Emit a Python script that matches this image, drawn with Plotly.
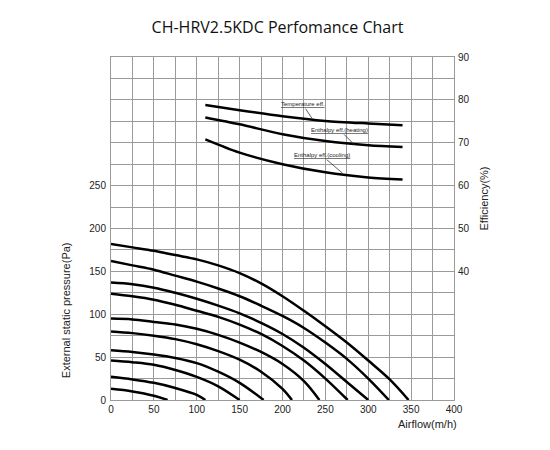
import plotly.graph_objects as go

# fan curves: airflow (m3/h) vs external static pressure (Pa)
fan_x = [
    [0, 25, 50, 75, 100, 125, 150, 175, 200, 225, 250, 275, 300, 325, 347],
    [0, 25, 50, 75, 100, 125, 150, 175, 200, 225, 250, 275, 300, 324],
    [0, 25, 50, 75, 100, 125, 150, 175, 200, 225, 250, 275, 300],
    [0, 25, 50, 75, 100, 125, 150, 175, 200, 225, 250, 276],
    [0, 25, 50, 75, 100, 125, 150, 175, 200, 225, 243],
    [0, 25, 50, 75, 100, 125, 150, 175, 200, 211],
    [0, 25, 50, 75, 100, 125, 150, 178],
    [0, 25, 50, 75, 100, 125, 150],
    [0, 25, 50, 75, 100, 110],
    [0, 25, 50, 66],
]
fan_y = [
    [182, 178, 174, 169, 164, 157, 148, 136, 121, 104, 86, 67, 46, 24, 0],
    [162, 157, 152, 145, 138, 130, 121, 110, 98, 84, 67, 48, 25, 0],
    [137, 135, 131, 125, 118, 110, 101, 90, 77, 61, 42, 21, 0],
    [124, 121, 117, 111, 104, 97, 88, 77, 63, 46, 25, 0],
    [95, 94, 91, 88, 83, 76, 67, 56, 42, 22, 0],
    [80, 78, 75, 71, 65, 57, 47, 33, 13, 0],
    [58, 56, 53, 49, 43, 33, 20, 0],
    [46, 44, 41, 35, 27, 16, 0],
    [27, 24, 20, 14, 6, 0],
    [13, 10, 5, 0],
]

# efficiency curves (%)
eff_x = [110, 150, 200, 250, 300, 340]
temp_eff = [78.8, 77.6, 76.2, 75.1, 74.5, 74.1]
heat_eff = [75.9, 74.3, 72.0, 70.4, 69.4, 69.0]
cool_eff = [70.8, 67.7, 65.0, 63.1, 61.9, 61.4]

pressure_ticks = [0, 50, 100, 150, 200, 250]
eff_ticks = [40, 50, 60, 70, 80, 90]
airflow_ticks = [0, 50, 100, 150, 200, 250, 300, 350, 400]

fig = go.Figure()
for xs, ys in zip(fan_x, fan_y):
    fig.add_trace(go.Scatter(x=xs, y=ys, mode='lines', line=dict(color='black', width=2.5, shape='spline', smoothing=1),
                             showlegend=False, hoverinfo='skip'))
for ys in [temp_eff, heat_eff, cool_eff]:
    fig.add_trace(go.Scatter(x=eff_x, y=ys, yaxis='y2', mode='lines',
                             line=dict(color='black', width=2.5, shape='spline', smoothing=0.8),
                             showlegend=False, hoverinfo='skip'))

tick_font = dict(family='Liberation Sans', size=10, color='#222')
grid_col = '#9a9a9a'
fig.update_layout(
    width=550, height=450,
    margin=dict(l=103, r=104, t=49, b=58),
    plot_bgcolor='white', paper_bgcolor='white',
    title=dict(text='CH-HRV2.5KDC Perfomance Chart', x=0.49, xanchor='center', y=0.956, yanchor='middle',
               font=dict(family='Open Sans', size=16, color='#111')),
    xaxis=dict(range=[0, 400], tickvals=airflow_ticks, showgrid=True, gridcolor=grid_col, gridwidth=1,
               minor=dict(dtick=25, tick0=0, showgrid=True, gridcolor=grid_col, gridwidth=1),
               showline=True, linecolor=grid_col, mirror=True, zeroline=False, ticks='',
               tickfont=tick_font, fixedrange=True),
    yaxis=dict(range=[0, 400], tickvals=pressure_ticks, showgrid=True, gridcolor=grid_col, gridwidth=1,
               minor=dict(dtick=25, tick0=0, showgrid=True, gridcolor=grid_col, gridwidth=1),
               showline=True, linecolor=grid_col, mirror=True, zeroline=False, ticks='',
               ticklabelstandoff=2, tickfont=tick_font),
    yaxis2=dict(range=[10, 90], overlaying='y', side='right', tickvals=eff_ticks, showgrid=False,
                zeroline=False, ticks='', ticklabelstandoff=3, tickfont=tick_font),
)

lab_font = dict(family='Liberation Sans', size=11, color='#222')
fig.add_annotation(text='External static pressure(Pa)', xref='paper', yref='paper', x=-0.131, y=0.262,
                   xanchor='center', yanchor='middle', textangle=-90, showarrow=False, font=lab_font)
fig.add_annotation(text='Efficiency(%)', xref='paper', yref='paper', x=1.086, y=0.589,
                   xanchor='center', yanchor='middle', textangle=-90, showarrow=False, font=lab_font)
fig.add_annotation(text='Airflow(m/h)', xref='paper', yref='paper', x=0.924, y=-0.07,
                   xanchor='center', yanchor='middle', showarrow=False, font=lab_font)

small = dict(family='Liberation Sans', size=6, color='#222')
for label, px, py, dx, dy in [('Temperature eff.', 235, 75.5, -10, -15),
                              ('Enthalpy eff.(heating)', 284, 69.5, -15, -15),
                              ('Enthalpy eff.(cooling)', 270, 62.9, -21, -18)]:
    fig.add_annotation(text='<u>' + label + '</u>', x=px, y=py, xref='x', yref='y2', ax=dx, ay=dy,
                       showarrow=True, arrowhead=0, arrowwidth=0.8, arrowcolor='#333', font=small, standoff=0)

fig.write_html("out.html")
